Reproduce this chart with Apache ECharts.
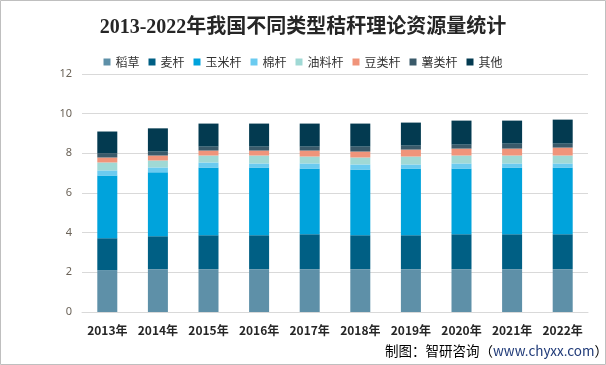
<!DOCTYPE html>
<html><head><meta charset="utf-8">
<script src="https://cdn.jsdelivr.net/npm/echarts@6/dist/echarts.min.js"></script>
<style>html,body{margin:0;padding:0;background:#fff}#c{width:606px;height:365px}</style>
</head><body><div id="c"></div>
<script>
const years = ['2013年','2014年','2015年','2016年','2017年','2018年','2019年','2020年','2021年','2022年'];
const yTicks = [0,2,4,6,8,10,12];
const daocao  = [2.11,2.16,2.16,2.16,2.16,2.16,2.16,2.16,2.16,2.16];
const maigan  = [1.61,1.66,1.71,1.71,1.76,1.71,1.71,1.76,1.76,1.76];
const yumi    = [3.16,3.22,3.42,3.42,3.32,3.32,3.37,3.32,3.37,3.37];
const mian    = [0.26,0.25,0.25,0.20,0.25,0.25,0.20,0.25,0.20,0.20];
const youliao = [0.40,0.35,0.35,0.40,0.35,0.35,0.40,0.40,0.40,0.40];
const doulei  = [0.25,0.25,0.25,0.25,0.30,0.30,0.35,0.35,0.35,0.40];
const shulei  = [0.22,0.20,0.20,0.20,0.20,0.25,0.20,0.20,0.25,0.20];
const qita    = [1.09,1.17,1.16,1.16,1.16,1.16,1.16,1.21,1.16,1.21];
const seriesNames = ['稻草','麦杆','玉米杆','棉杆','油料杆','豆类杆','薯类杆','其他'];
const seriesData = [daocao,maigan,yumi,mian,youliao,doulei,shulei,qita];
const colors = ['#5e90a8','#005f84','#00a3dc','#6bcbf0','#a0d9d5','#f0947a','#3a5a6a','#033a50'];

const chart = echarts.init(document.getElementById('c'), null, {renderer:'canvas'});
chart.setOption({
  animation:false,
  color: colors,
  title:{
    text:'2013-2022年我国不同类型秸秆理论资源量统计',
    left:'center', top:13,
    textStyle:{fontFamily:'Liberation Serif, "Noto Sans CJK SC", serif', fontWeight:'bold', fontSize:20, color:'#262626'}
  },
  legend:{
    data: seriesNames, top:51, left:'center',
    itemWidth:7, itemHeight:7, itemGap:9, icon:'rect',
    textStyle:{fontFamily:'"Noto Sans CJK SC"', fontSize:12, color:'#333'}
  },
  grid:{left:82, right:18, top:74, bottom:53},
  xAxis:{
    type:'category', data: years,
    axisLine:{lineStyle:{color:'#d9d9d9'}},
    axisTick:{show:false},
    axisLabel:{interval:0, fontFamily:'"Noto Sans CJK SC"', fontWeight:'bold', fontSize:12, color:'#262626', margin:12}
  },
  yAxis:{
    type:'value', min:yTicks[0], max:yTicks[yTicks.length-1], interval:2,
    axisLine:{show:false}, axisTick:{show:false},
    splitLine:{lineStyle:{color:'#d9d9d9'}},
    axisLabel:{fontFamily:'"Noto Sans", sans-serif', fontSize:11, color:'#6b6358', margin:10}
  },
  series: seriesNames.map((n,i)=>({
    name:n, type:'bar', stack:'total', barWidth:20, data: seriesData[i]
  })),
  graphic:[
    {type:'rect', shape:{x:0.5,y:0.5,width:605,height:364}, style:{fill:'none', stroke:'#bfbfbf', lineWidth:1}, silent:true},
    {type:'text', left:385, top:344, style:{
      text:'{a|制图：智研咨询（}{b|www.chyxx.com}{a|）}',
      rich:{
        a:{fontFamily:'"Noto Sans CJK SC"', fontSize:13.5, fill:'#000'},
        b:{fontFamily:'"Noto Sans CJK SC"', fontSize:13.5, fill:'#1f3a78'}
      }
    }}
  ]
});
</script></body></html>
